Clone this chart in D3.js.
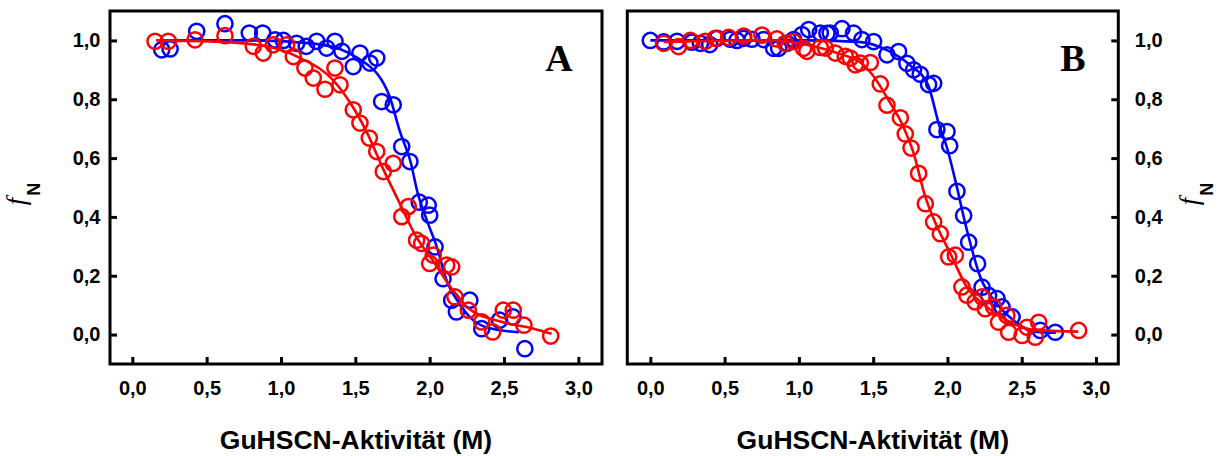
<!DOCTYPE html>
<html><head><meta charset="utf-8">
<script src="https://cdn.jsdelivr.net/npm/d3@7"></script>
<style>
html,body{margin:0;padding:0;background:#fff;}
svg{display:block;}
</style></head>
<body>
<svg id="chart" width="1223" height="456"></svg>
<script>
// ---------- DATA ----------
const xTicks = [0, 0.5, 1.0, 1.5, 2.0, 2.5, 3.0];
const yTicks = [0, 0.2, 0.4, 0.6, 0.8, 1.0];
const panelLabels = ["A", "B"];
const xTitle = "GuHSCN-Aktivität (M)";

// Panel A – blue
const aBlueX = [0.198,0.254,0.433,0.623,0.787,0.877,0.96,1.016,1.105,1.17,1.24,1.307,1.363,1.41,1.486,1.531,1.598,1.644,1.677,1.755,1.812,1.867,1.93,1.99,2.0,2.036,2.09,2.148,2.18,2.27,2.35,2.47,2.56,2.64];
const aBlueY = [0.968,0.971,1.031,1.057,1.025,1.025,1.002,1.0,0.99,0.98,0.997,0.974,0.997,0.963,0.911,0.957,0.923,0.94,0.792,0.781,0.639,0.588,0.45,0.44,0.406,0.298,0.19,0.117,0.077,0.117,0.02,0.049,0.06,-0.048];
// Panel A – red
const aRedX = [0.153,0.242,0.422,0.623,0.814,0.881,0.948,1.038,1.083,1.161,1.217,1.296,1.363,1.397,1.486,1.531,1.594,1.644,1.688,1.755,1.812,1.856,1.912,1.946,2.0,2.024,2.114,2.148,2.17,2.26,2.35,2.424,2.495,2.562,2.634,2.814];
const aRedY = [0.997,0.997,1.002,1.016,0.98,0.957,0.985,0.985,0.945,0.906,0.872,0.834,0.906,0.849,0.764,0.719,0.668,0.622,0.554,0.582,0.401,0.435,0.321,0.31,0.242,0.27,0.236,0.23,0.128,0.083,0.043,0.009,0.083,0.083,0.032,-0.005];
// Panel A – fitted lines
const aBlueFitX = [0.2,0.8,1.2,1.4,1.5,1.6,1.65,1.73,1.8,1.87,1.92,1.98,2.05,2.11,2.2,2.29,2.4,2.6];
const aBlueFitY = [1.0,1.0,0.99,0.97,0.945,0.91,0.885,0.81,0.69,0.59,0.48,0.39,0.295,0.19,0.105,0.05,0.022,0.008];
const aRedFitX = [0.16,0.6,0.9,1.13,1.35,1.5,1.58,1.69,1.8,1.91,2.02,2.14,2.25,2.47,2.7,2.82];
const aRedFitY = [1.0,0.995,0.98,0.94,0.865,0.76,0.685,0.56,0.445,0.332,0.253,0.162,0.094,0.045,0.02,0.003];

// Panel B – blue
const bBlueX = [0.0,0.09,0.18,0.28,0.337,0.4,0.45,0.538,0.583,0.628,0.684,0.763,0.83,0.864,0.92,0.965,1.021,1.066,1.144,1.189,1.211,1.29,1.368,1.424,1.503,1.593,1.671,1.727,1.772,1.817,1.873,1.907,1.929,1.997,2.015,2.064,2.109,2.143,2.203,2.233,2.277,2.334,2.367,2.435,2.625,2.726];
const bBlueY = [1.0,0.995,0.997,0.994,0.99,0.986,1.007,1.004,1.0,1.007,1.004,1.003,0.973,0.973,0.99,1.003,1.02,1.037,1.025,1.024,1.025,1.04,1.025,1.003,0.996,0.951,0.962,0.922,0.9,0.885,0.85,0.854,0.697,0.69,0.642,0.487,0.405,0.314,0.241,0.161,0.133,0.122,0.094,0.06,0.014,0.008];
// Panel B – red
const bRedX = [0.09,0.19,0.27,0.37,0.437,0.527,0.628,0.751,0.852,0.908,0.964,1.031,1.054,1.144,1.178,1.245,1.312,1.346,1.38,1.413,1.481,1.548,1.593,1.683,1.716,1.755,1.806,1.851,1.907,1.952,2.008,2.053,2.097,2.131,2.187,2.233,2.254,2.311,2.344,2.4,2.412,2.502,2.536,2.591,2.614,2.883];
const bRedY = [0.99,0.979,1.0,0.997,1.007,1.01,1.015,1.018,1.005,0.99,0.996,0.973,0.963,0.976,0.974,0.957,0.946,0.94,0.917,0.923,0.925,0.852,0.78,0.737,0.682,0.634,0.548,0.445,0.383,0.343,0.264,0.27,0.162,0.134,0.111,0.128,0.088,0.094,0.042,0.065,0.008,-0.003,0.025,-0.009,0.042,0.014];
// Panel B – fitted lines
const bBlueFitX = [0.0,1.0,1.4,1.6,1.75,1.87,1.94,2.0,2.05,2.131,2.221,2.334,2.446,2.58,2.73];
const bBlueFitY = [1.0,1.0,0.995,0.965,0.915,0.848,0.72,0.63,0.53,0.355,0.196,0.104,0.048,0.01,0.006];
const bRedFitX = [0.09,0.8,1.1,1.3,1.4,1.5,1.6,1.7,1.77,1.85,1.91,2.02,2.13,2.27,2.45,2.58,2.88];
const bRedFitY = [0.995,1.0,0.98,0.95,0.93,0.88,0.8,0.71,0.62,0.47,0.39,0.275,0.162,0.092,0.036,0.016,0.01];

// ---------- DRAW ----------
const svg = d3.select("#chart");
const BLUE = "#0000ff", RED = "#ff0000";
const sans = "'Liberation Sans', Arial, sans-serif";
const serif = "'Liberation Serif', 'Times New Roman', serif";
const fmt = d => d3.format(".1f")(d).replace(".", ",");
const zip = (xs, ys) => xs.map((x, i) => [x, ys[i]]);

const panels = [
  { left: 110, right: 602, xDom: [-0.15, 3.159], yAxis: "left", label: panelLabels[0], labelX: 559, fnX: 25,
    series: [
      { pts: zip(aBlueX, aBlueY), fit: zip(aBlueFitX, aBlueFitY), color: BLUE },
      { pts: zip(aRedX, aRedY), fit: zip(aRedFitX, aRedFitY), color: RED } ] },
  { left: 627.3, right: 1118.3, xDom: [-0.155, 3.15], yAxis: "right", label: panelLabels[1], labelX: 1073, fnX: 1198,
    series: [
      { pts: zip(bBlueX, bBlueY), fit: zip(bBlueFitX, bBlueFitY), color: BLUE },
      { pts: zip(bRedX, bRedY), fit: zip(bRedFitX, bRedFitY), color: RED } ] }
];
const plotTop = 11, plotBottom = 364;

panels.forEach(p => {
  const x = d3.scaleLinear().domain(p.xDom).range([p.left, p.right]);
  const y = d3.scaleLinear().domain([-0.1, 1.1]).range([plotBottom, plotTop]);
  const g = svg.append("g");

  // series
  p.series.forEach(s => {
    const line = d3.line().x(d => x(d[0])).y(d => y(d[1])).curve(d3.curveMonotoneX);
    g.append("path").attr("d", line(s.fit)).attr("fill", "none")
      .attr("stroke", s.color).attr("stroke-width", 2.6);
    g.selectAll(null).data(s.pts).enter().append("circle")
      .attr("cx", d => x(d[0])).attr("cy", d => y(d[1])).attr("r", 7.6)
      .attr("fill", "none").attr("stroke", s.color).attr("stroke-width", 2.5);
  });

  // x axis
  const xa = g.append("g").attr("transform", `translate(0,${plotBottom})`)
    .call(d3.axisBottom(x).tickValues(xTicks).tickSize(-7).tickPadding(17).tickFormat(fmt));
  xa.select(".domain").remove();
  xa.selectAll(".tick line").attr("stroke", "#000").attr("stroke-width", 3);
  xa.selectAll(".tick text").attr("font-family", sans).attr("font-size", 20).attr("font-weight", "bold").attr("fill", "#000");

  // y axis
  let ya;
  if (p.yAxis === "left") {
    ya = g.append("g").attr("transform", `translate(${p.left},0)`)
      .call(d3.axisLeft(y).tickValues(yTicks).tickSize(-7).tickPadding(9.5).tickFormat(fmt));
  } else {
    ya = g.append("g").attr("transform", `translate(${p.right},0)`)
      .call(d3.axisRight(y).tickValues(yTicks).tickSize(-7).tickPadding(16.5).tickFormat(fmt));
  }
  ya.select(".domain").remove();
  ya.selectAll(".tick line").attr("stroke", "#000").attr("stroke-width", 3);
  ya.selectAll(".tick text").attr("font-family", sans).attr("font-size", 20).attr("font-weight", "bold").attr("fill", "#000");

  // frame
  g.append("rect").attr("x", p.left).attr("y", plotTop)
    .attr("width", p.right - p.left).attr("height", plotBottom - plotTop)
    .attr("fill", "none").attr("stroke", "#000").attr("stroke-width", 3);

  // panel letter
  g.append("text").attr("x", p.labelX).attr("y", 70.7).attr("text-anchor", "middle")
    .attr("font-family", serif).attr("font-weight", "bold").attr("font-size", 38).text(p.label);

  // x title
  g.append("text").attr("x", (p.left + p.right) / 2).attr("y", 449).attr("text-anchor", "middle")
    .attr("font-family", sans).attr("font-weight", "bold").attr("font-size", 26.5).text(xTitle);

  // y title f_N
  const t = g.append("text").attr("transform", `translate(${p.fnX},194) rotate(-90)`)
    .attr("text-anchor", "middle");
  t.append("tspan").attr("font-family", serif).attr("font-style", "italic").attr("font-size", 27).text("f");
  t.append("tspan").attr("font-family", sans).attr("font-weight", "bold").attr("font-size", 18)
    .attr("dy", 15).attr("dx", 2).text("N");
});
</script>
</body></html>
